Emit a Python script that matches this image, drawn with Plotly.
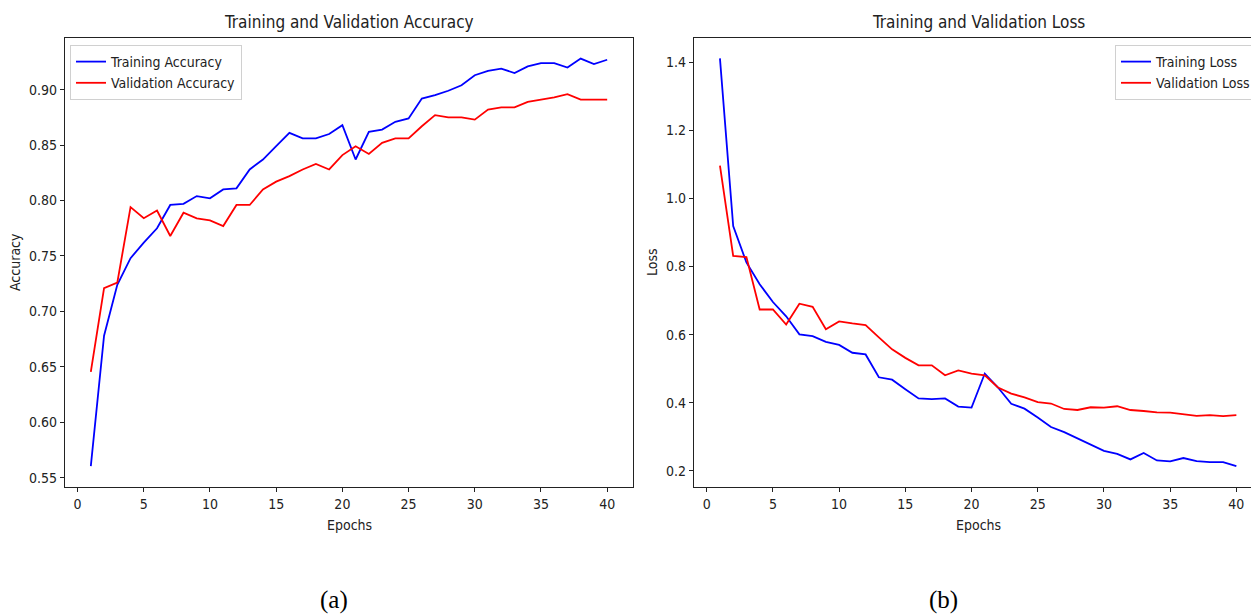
import plotly.graph_objects as go

epochs = list(range(1, 41))

train_acc = [0.5605, 0.678, 0.724, 0.748, 0.762, 0.775, 0.796, 0.797, 0.804, 0.802,
             0.810, 0.811, 0.828, 0.837, 0.849, 0.861, 0.856, 0.856, 0.860, 0.868,
             0.837, 0.862, 0.864, 0.871, 0.874, 0.892, 0.895, 0.899, 0.904, 0.913,
             0.917, 0.919, 0.915, 0.921, 0.924, 0.924, 0.920, 0.928, 0.923, 0.927]
val_acc = [0.6455, 0.721, 0.726, 0.794, 0.784, 0.791, 0.768, 0.789, 0.784, 0.782,
           0.777, 0.796, 0.796, 0.810, 0.817, 0.822, 0.828, 0.833, 0.828, 0.841,
           0.849, 0.842, 0.852, 0.856, 0.856, 0.867, 0.877, 0.875, 0.875, 0.873,
           0.882, 0.884, 0.884, 0.889, 0.891, 0.893, 0.896, 0.891, 0.891, 0.891]
train_loss = [1.411, 0.919, 0.812, 0.748, 0.696, 0.654, 0.601, 0.596, 0.579, 0.570,
              0.547, 0.542, 0.475, 0.468, 0.440, 0.413, 0.411, 0.413, 0.389, 0.386,
              0.486, 0.445, 0.397, 0.383, 0.357, 0.329, 0.314, 0.296, 0.278, 0.259,
              0.250, 0.234, 0.253, 0.231, 0.228, 0.238, 0.229, 0.226, 0.226, 0.214]
val_loss = [1.096, 0.831, 0.828, 0.674, 0.674, 0.630, 0.691, 0.682, 0.616, 0.639,
            0.633, 0.628, 0.592, 0.557, 0.532, 0.510, 0.510, 0.481, 0.495, 0.486,
            0.481, 0.445, 0.427, 0.416, 0.402, 0.398, 0.382, 0.379, 0.387, 0.386,
            0.390, 0.379, 0.376, 0.372, 0.371, 0.366, 0.362, 0.364, 0.361, 0.364]

acc_ticks = [0.55, 0.60, 0.65, 0.70, 0.75, 0.80, 0.85, 0.90]
loss_ticks = [0.2, 0.4, 0.6, 0.8, 1.0, 1.2, 1.4]
x_ticks = [0, 5, 10, 15, 20, 25, 30, 35, 40]

# page is shown with an 8px body margin; figure is sized/positioned to compensate
OFF = 8
FW, FH = 1259 - OFF, 615 - OFF


def fx(px):
    return (px - OFF) / FW


def fy(py):
    return 1 - (py - OFF) / FH


FONT = "DejaVu Sans Condensed, DejaVu Sans"
SERIF = "Liberation Serif, Times New Roman, serif"
BLUE = "#0000ff"
RED = "#ff0000"
LW = 1.8

fig = go.Figure()
fig.add_trace(go.Scatter(x=epochs, y=train_acc, mode="lines", name="Training Accuracy",
                         line=dict(color=BLUE, width=LW), xaxis="x", yaxis="y", legend="legend"))
fig.add_trace(go.Scatter(x=epochs, y=val_acc, mode="lines", name="Validation Accuracy",
                         line=dict(color=RED, width=LW), xaxis="x", yaxis="y", legend="legend"))
fig.add_trace(go.Scatter(x=epochs, y=train_loss, mode="lines", name="Training Loss",
                         line=dict(color=BLUE, width=LW), xaxis="x2", yaxis="y2", legend="legend2"))
fig.add_trace(go.Scatter(x=epochs, y=val_loss, mode="lines", name="Validation Loss",
                         line=dict(color=RED, width=LW), xaxis="x2", yaxis="y2", legend="legend2"))

ytop = fy(38)
ybot = fy(487)

axis_common = dict(showgrid=False, zeroline=False, showline=True, linecolor="#222222",
                   linewidth=1.2, ticks="outside", ticklen=4, tickcolor="#222222",
                   tickfont=dict(family=FONT, size=14, color="#222222"))

fig.update_layout(
    width=FW, height=FH,
    margin=dict(l=0, r=0, t=0, b=0),
    paper_bgcolor="white", plot_bgcolor="white",
    font=dict(family=FONT, size=13, color="#222222"),
    xaxis=dict(domain=[fx(65), fx(633)], range=[-0.95, 41.95], tickvals=x_ticks,
               mirror=True, anchor="y", **axis_common),
    yaxis=dict(domain=[ybot, ytop], range=[0.5416, 0.9466], tickvals=acc_ticks,
               tickformat=".2f", mirror=True, anchor="x", **axis_common),
    xaxis2=dict(domain=[fx(694), 1.0], range=[-0.96, 41.71], tickvals=x_ticks,
                mirror=True, anchor="y2", **axis_common),
    yaxis2=dict(domain=[ybot, ytop], range=[0.153, 1.4708], tickvals=loss_ticks,
                tickformat=".1f", mirror=False, anchor="x2", **axis_common),
    legend=dict(x=fx(70), y=fy(45), xanchor="left", yanchor="top",
                bgcolor="rgba(255,255,255,0.8)", bordercolor="#d0d0d0", borderwidth=1,
                font=dict(family=FONT, size=14, color="#222222"), tracegroupgap=0,
                itemwidth=30),
    legend2=dict(x=fx(1256), y=fy(45), xanchor="right", yanchor="top",
                 bgcolor="rgba(255,255,255,0.8)", bordercolor="#d0d0d0", borderwidth=1,
                 font=dict(family=FONT, size=14, color="#222222"), tracegroupgap=0,
                 itemwidth=30),
    showlegend=True,
)

annotations = [
    dict(text="Training and Validation Accuracy", x=fx(349), y=fy(22),
         font=dict(family=FONT, size=17, color="#222222")),
    dict(text="Training and Validation Loss", x=fx(978), y=fy(22),
         font=dict(family=FONT, size=17, color="#222222")),
    dict(text="Epochs", x=fx(349), y=fy(525),
         font=dict(family=FONT, size=14, color="#222222")),
    dict(text="Epochs", x=fx(978), y=fy(525),
         font=dict(family=FONT, size=14, color="#222222")),
    dict(text="Accuracy", x=fx(15), y=fy(262), textangle=-90,
         font=dict(family=FONT, size=14, color="#222222")),
    dict(text="Loss", x=fx(652), y=fy(262), textangle=-90,
         font=dict(family=FONT, size=14, color="#222222")),
    dict(text="(a)", x=fx(334), y=fy(600),
         font=dict(family=SERIF, size=25, color="#000000")),
    dict(text="(b)", x=fx(943), y=fy(600),
         font=dict(family=SERIF, size=25, color="#000000")),
]
for a in annotations:
    a.update(xref="paper", yref="paper", showarrow=False, xanchor="center", yanchor="middle")
fig.update_layout(annotations=annotations)

fig.write_html("out.html")
